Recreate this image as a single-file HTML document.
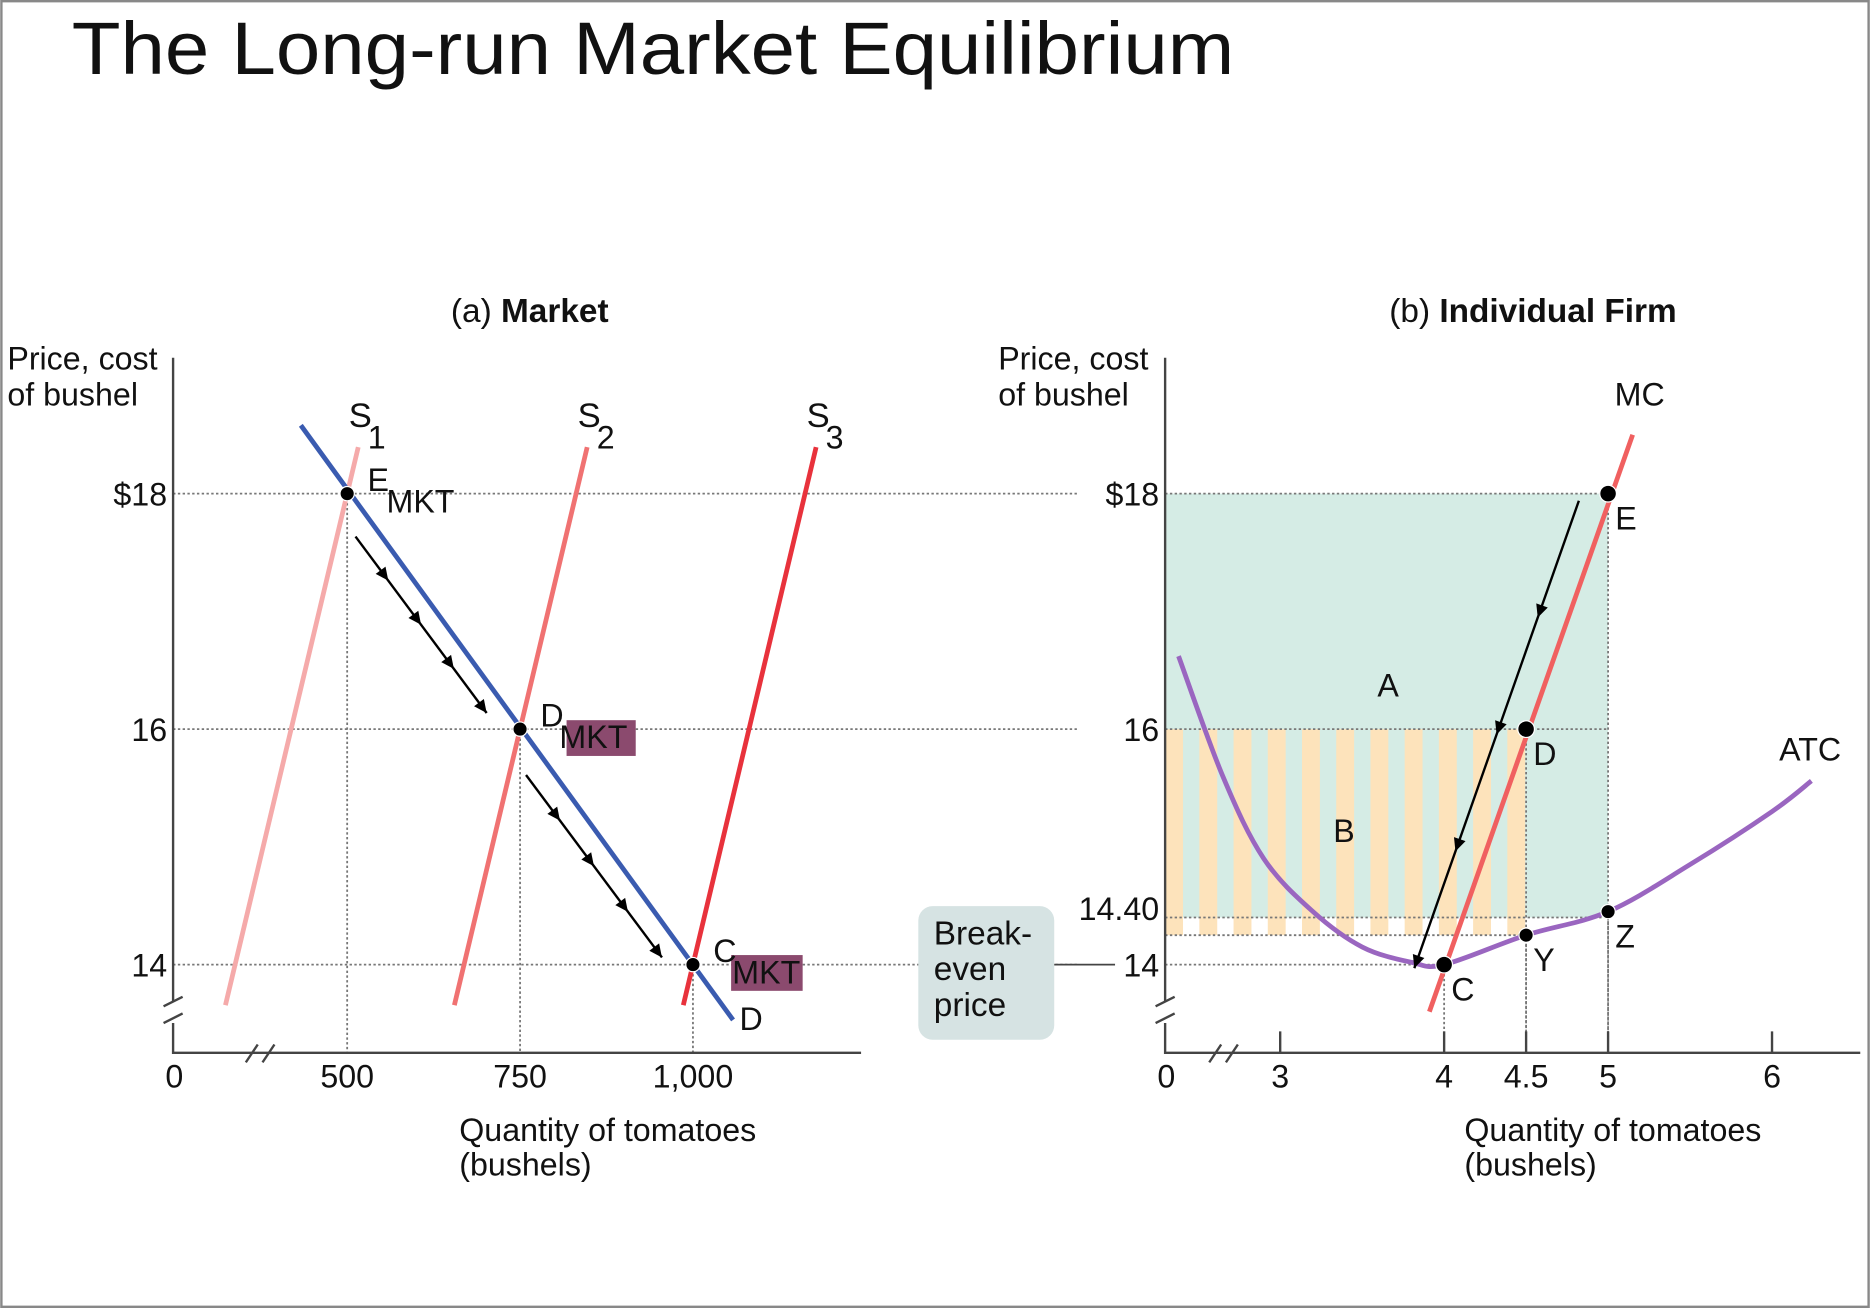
<!DOCTYPE html>
<html><head><meta charset="utf-8"><style>
html,body{margin:0;padding:0;background:#fff}
svg{display:block}
text{font-family:"Liberation Sans",sans-serif;fill:#111}
</style></head><body>
<svg id="chart" width="1870" height="1308" viewBox="0 0 1568 1097">
<rect x="1" y="1" width="1566" height="1095" fill="#fff" stroke="#888" stroke-width="2"/>
<text x="60" y="62" font-size="62" textLength="975" lengthAdjust="spacingAndGlyphs">The Long-run Market Equilibrium</text>
<g id="pa"></g>
<g id="pb"></g>
</svg>
<script>
// ---- data ----
const priceTicksA = [18, 16, 14];
const priceLabelsA = ["$18", "16", "14"];
const qtyTicksA = [500, 750, 1000];
const qtyLabelsA = ["500", "750", "1,000"];
const demandEnds = [[433, 18.58], [1058, 13.53]];
const supplyNames = ["S1", "S2", "S3"];
const supplyPoints = [[500, 18], [750, 16], [1000, 14]];
const eqLabels = ["E", "D", "C"];

const priceTicksB = [18, 16, 14.4, 14];
const priceLabelsB = ["$18", "16", "14.40", "14"];
const qtyTicksB = [3, 4, 4.5, 5, 6];
const qtyLabelsB = ["3", "4", "4.5", "5", "6"];
const atcQ = [2.38, 2.65, 2.9, 3.2, 3.5, 3.8, 4.0, 4.5, 5.0, 5.5, 6.0, 6.24];
const atcP = [16.62, 15.6, 14.9, 14.45, 14.15, 14.02, 14.0, 14.25, 14.45, 14.85, 15.3, 15.56];
const firmPoints = [[5, 18, "E"], [4.5, 16, "D"], [4, 14, "C"], [4.5, 14.25, "Y"], [5, 14.45, "Z"]];
const mcEnds = [[3.91, 13.6], [5.15, 18.5]];

const NS = "http://www.w3.org/2000/svg";
function mk(parent, tag, attrs, txt) {
  const e = document.createElementNS(NS, tag);
  for (const k in attrs) e.setAttribute(k, attrs[k]);
  if (txt !== undefined) e.textContent = txt;
  parent.appendChild(e);
  return e;
}
const yP = p => 809 - (p - 14) * 98.75;
const xA = q => 291 + (q - 500) * 0.58;
const xB = q => 1211 + (q - 4) * 137.5;
const pa = document.getElementById('pa');
const pb = document.getElementById('pb');

// ---- Panel A ----
let t = mk(pa, 'text', {x: 378, y: 270, 'font-size': 28}); t.innerHTML = '(a) <tspan font-weight="bold">Market</tspan>';
 
t = mk(pa, 'text', {x: 6, y: 310, 'font-size': 27}, 'Price, cost');
 
mk(pa, 'text', {x: 6, y: 340, 'font-size': 27}, 'of bushel');
priceTicksA.forEach((p, i) => {
  const l = mk(pa, 'line', {x1: 145, x2: 905, y1: yP(p), y2: yP(p), stroke: '#777', 'stroke-width': 1.5, 'stroke-dasharray': '2,2'});
   
  const tx = mk(pa, 'text', {x: 140, y: yP(p) + 10, 'font-size': 27, 'text-anchor': 'end'}, priceLabelsA[i]);
   
  const q = supplyPoints[i][0];
  const v = mk(pa, 'line', {x1: xA(q), x2: xA(q), y1: yP(p), y2: 883, stroke: '#777', 'stroke-width': 1.5, 'stroke-dasharray': '2,2'});
   
});
qtyTicksA.forEach((q, i) => {
  const tx = mk(pa, 'text', {x: xA(q), y: 912, 'font-size': 27, 'text-anchor': 'middle'}, qtyLabelsA[i]);
   
});
mk(pa, 'text', {x: 146, y: 912, 'font-size': 27, 'text-anchor': 'middle'}, '0');
let ax = mk(pa, 'path', {d: 'M145 300 V840 M145 858 V883 H722', stroke: '#444', 'stroke-width': 2, fill: 'none'});
 
mk(pa, 'path', {d: 'M137 844 L153 836 M137 858 L153 850 M206 891 L216 876 M220 891 L230 876', stroke: '#444', 'stroke-width': 2, fill: 'none'});
t = mk(pa, 'text', {x: 385, y: 957, 'font-size': 27}, 'Quantity of tomatoes');
 
mk(pa, 'text', {x: 385, y: 986, 'font-size': 27}, '(bushels)');
const sCol = ['#f5aaaa', '#f07272', '#e8323c'];
supplyPoints.forEach((pt, i) => {
  const x0 = xA(pt[0]), y0 = yP(pt[1]);
  const k = 0.238;
  const l = mk(pa, 'line', {x1: x0 + (y0 - 375) * k, y1: 375, x2: x0 - (843 - y0) * k, y2: 843, stroke: sCol[i], 'stroke-width': 4});
   
  const lb = mk(pa, 'text', {x: x0 + (y0 - 375) * k - 8, y: 358, 'font-size': 29}, 'S');
   
  mk(pa, 'text', {x: x0 + (y0 - 375) * k + 8, y: 376, 'font-size': 27}, String(i + 1));
});
let dl = mk(pa, 'line', {x1: xA(demandEnds[0][0]), y1: yP(demandEnds[0][1]), x2: xA(demandEnds[1][0]), y2: yP(demandEnds[1][1]), stroke: '#3a5bb0', 'stroke-width': 4});
 
mk(pa, 'text', {x: 620, y: 864, 'font-size': 27}, 'D');
function arrowLine(g, x1, y1, x2, y2, n, name) {
  const l = mk(g, 'line', {x1, y1, x2, y2, stroke: '#000', 'stroke-width': 2});
   
  const ang = Math.atan2(y2 - y1, x2 - x1);
  for (let j = 1; j <= n; j++) {
    const f = j / n, px = x1 + (x2 - x1) * f, py = y1 + (y2 - y1) * f;
    const a1 = ang + 2.7, a2 = ang - 2.7;
    mk(g, 'path', {d: `M${px} ${py} L${px + 12 * Math.cos(a1)} ${py + 12 * Math.sin(a1)} L${px + 12 * Math.cos(a2)} ${py + 12 * Math.sin(a2)}Z`, fill: '#000'});
  }
}
arrowLine(pa, 298, 450, 408, 598, 4, 'arrow-shift-1');
arrowLine(pa, 441, 650, 555, 803, 4, 'arrow-shift-2');
mk(pa, 'rect', {x: 475, y: 604, width: 58, height: 30, fill: '#8b4a6e'});
mk(pa, 'rect', {x: 613, y: 801, width: 60, height: 30, fill: '#8b4a6e'});
supplyPoints.forEach((pt, i) => {
  const c = mk(pa, 'circle', {cx: xA(pt[0]), cy: yP(pt[1]), r: 6, fill: '#000', stroke: '#fff', 'stroke-width': 1});
   
  const lb = mk(pa, 'text', {x: xA(pt[0]) + 17, y: yP(pt[1]) - 2, 'font-size': 27}, eqLabels[i]);
   
  mk(pa, 'text', {x: xA(pt[0]) + 33, y: yP(pt[1]) + 16, 'font-size': 27}, 'MKT');
});

// ---- Panel B ----
t = mk(pb, 'text', {x: 1165, y: 270, 'font-size': 28}); t.innerHTML = '(b) <tspan font-weight="bold">Individual Firm</tspan>';
 
t = mk(pb, 'text', {x: 837, y: 310, 'font-size': 27}, 'Price, cost');
 
mk(pb, 'text', {x: 837, y: 340, 'font-size': 27}, 'of bushel');
let r = mk(pb, 'rect', {x: 977, y: yP(18), width: xB(5) - 977, height: yP(14.4) - yP(18), fill: '#d5ece5'});
 
mk(pb, 'rect', {x: 977, y: yP(14.4), width: xB(4.5) - 977, height: yP(14.25) - yP(14.4), fill: '#fff'});
for (let x = 977; x < xB(4.5) - 4; x += 28.7) {
  const b = mk(pb, 'rect', {x: x, y: yP(16), width: Math.min(15, xB(4.5) - x), height: yP(14.25) - yP(16), fill: '#fde3bb'});
   
}
priceTicksB.forEach((p, i) => {
  const xe = p === 14 ? xB(4) : xB(5);
  const l = mk(pb, 'line', {x1: 977, x2: xe, y1: yP(p), y2: yP(p), stroke: '#777', 'stroke-width': 1.5, 'stroke-dasharray': '2,2'});
   
  const tx = mk(pb, 'text', {x: 972, y: yP(p) + 10 - (p === 14.4 ? 8 : 0), 'font-size': 27, 'text-anchor': 'end'}, priceLabelsB[i]);
   
});
mk(pb, 'line', {x1: 977, x2: xB(4.5), y1: yP(14.25), y2: yP(14.25), stroke: '#777', 'stroke-width': 1.5, 'stroke-dasharray': '2,2'});
firmPoints.forEach(fp => {
  mk(pb, 'line', {x1: xB(fp[0]), x2: xB(fp[0]), y1: yP(fp[1]), y2: 883, stroke: '#777', 'stroke-width': 1.5, 'stroke-dasharray': '2,2'});
});
qtyTicksB.forEach((q, i) => {
  mk(pb, 'line', {x1: xB(q), x2: xB(q), y1: 865, y2: 883, stroke: '#444', 'stroke-width': 2});
  const tx = mk(pb, 'text', {x: xB(q), y: 912, 'font-size': 27, 'text-anchor': 'middle'}, qtyLabelsB[i]);
   
});
mk(pb, 'text', {x: 978, y: 912, 'font-size': 27, 'text-anchor': 'middle'}, '0');
ax = mk(pb, 'path', {d: 'M977 300 V840 M977 858 V883 H1560', stroke: '#444', 'stroke-width': 2, fill: 'none'});
 
mk(pb, 'path', {d: 'M969 844 L985 836 M969 858 L985 850 M1014 891 L1024 876 M1028 891 L1038 876', stroke: '#444', 'stroke-width': 2, fill: 'none'});
t = mk(pb, 'text', {x: 1228, y: 957, 'font-size': 27}, 'Quantity of tomatoes');
 
mk(pb, 'text', {x: 1228, y: 986, 'font-size': 27}, '(bushels)');
const pts = atcQ.map((q, i) => [xB(q), yP(atcP[i])]);
let d = `M${pts[0][0]} ${pts[0][1]}`;
for (let i = 0; i < pts.length - 1; i++) {
  const p0 = pts[Math.max(0, i - 1)], p1 = pts[i], p2 = pts[i + 1], p3 = pts[Math.min(pts.length - 1, i + 2)];
  d += ` C${p1[0] + (p2[0] - p0[0]) / 6} ${p1[1] + (p2[1] - p0[1]) / 6} ${p2[0] - (p3[0] - p1[0]) / 6} ${p2[1] - (p3[1] - p1[1]) / 6} ${p2[0]} ${p2[1]}`;
}
let atc = mk(pb, 'path', {d, stroke: '#9a66c0', 'stroke-width': 4, fill: 'none'});
 
let mc = mk(pb, 'line', {x1: xB(mcEnds[0][0]), y1: yP(mcEnds[0][1]), x2: xB(mcEnds[1][0]), y2: yP(mcEnds[1][1]), stroke: '#f06060', 'stroke-width': 4});
 
arrowLine(pb, 1324, 420, 1186, 812, 4, 'arrow-price-fall');
firmPoints.forEach(fp => {
  const big = fp[2] === 'E' || fp[2] === 'C' || fp[2] === 'D';
  const c = mk(pb, 'circle', {cx: xB(fp[0]), cy: yP(fp[1]), r: big ? 7 : 6, fill: '#000', stroke: '#fff', 'stroke-width': 1});
   
  const lb = mk(pb, 'text', {x: xB(fp[0]) + 6, y: yP(fp[1]) + 30, 'font-size': 27}, fp[2]);
   
});
t = mk(pb, 'text', {x: 1354, y: 340, 'font-size': 27}, 'MC');  
t = mk(pb, 'text', {x: 1492, y: 638, 'font-size': 27}, 'ATC');  
t = mk(pb, 'text', {x: 1155, y: 584, 'font-size': 27}, 'A');  
t = mk(pb, 'text', {x: 1118, y: 706, 'font-size': 27}, 'B');  
let bx = mk(pb, 'rect', {x: 770, y: 760, width: 114, height: 112, rx: 12, fill: '#d6e3e3'});
 
['Break-', 'even', 'price'].forEach((s, i) => mk(pb, 'text', {x: 783, y: 792 + i * 30, 'font-size': 28}, s));
mk(pb, 'line', {x1: 884, x2: 935, y1: 809, y2: 809, stroke: '#444', 'stroke-width': 1.5});
</script>
</body></html>
